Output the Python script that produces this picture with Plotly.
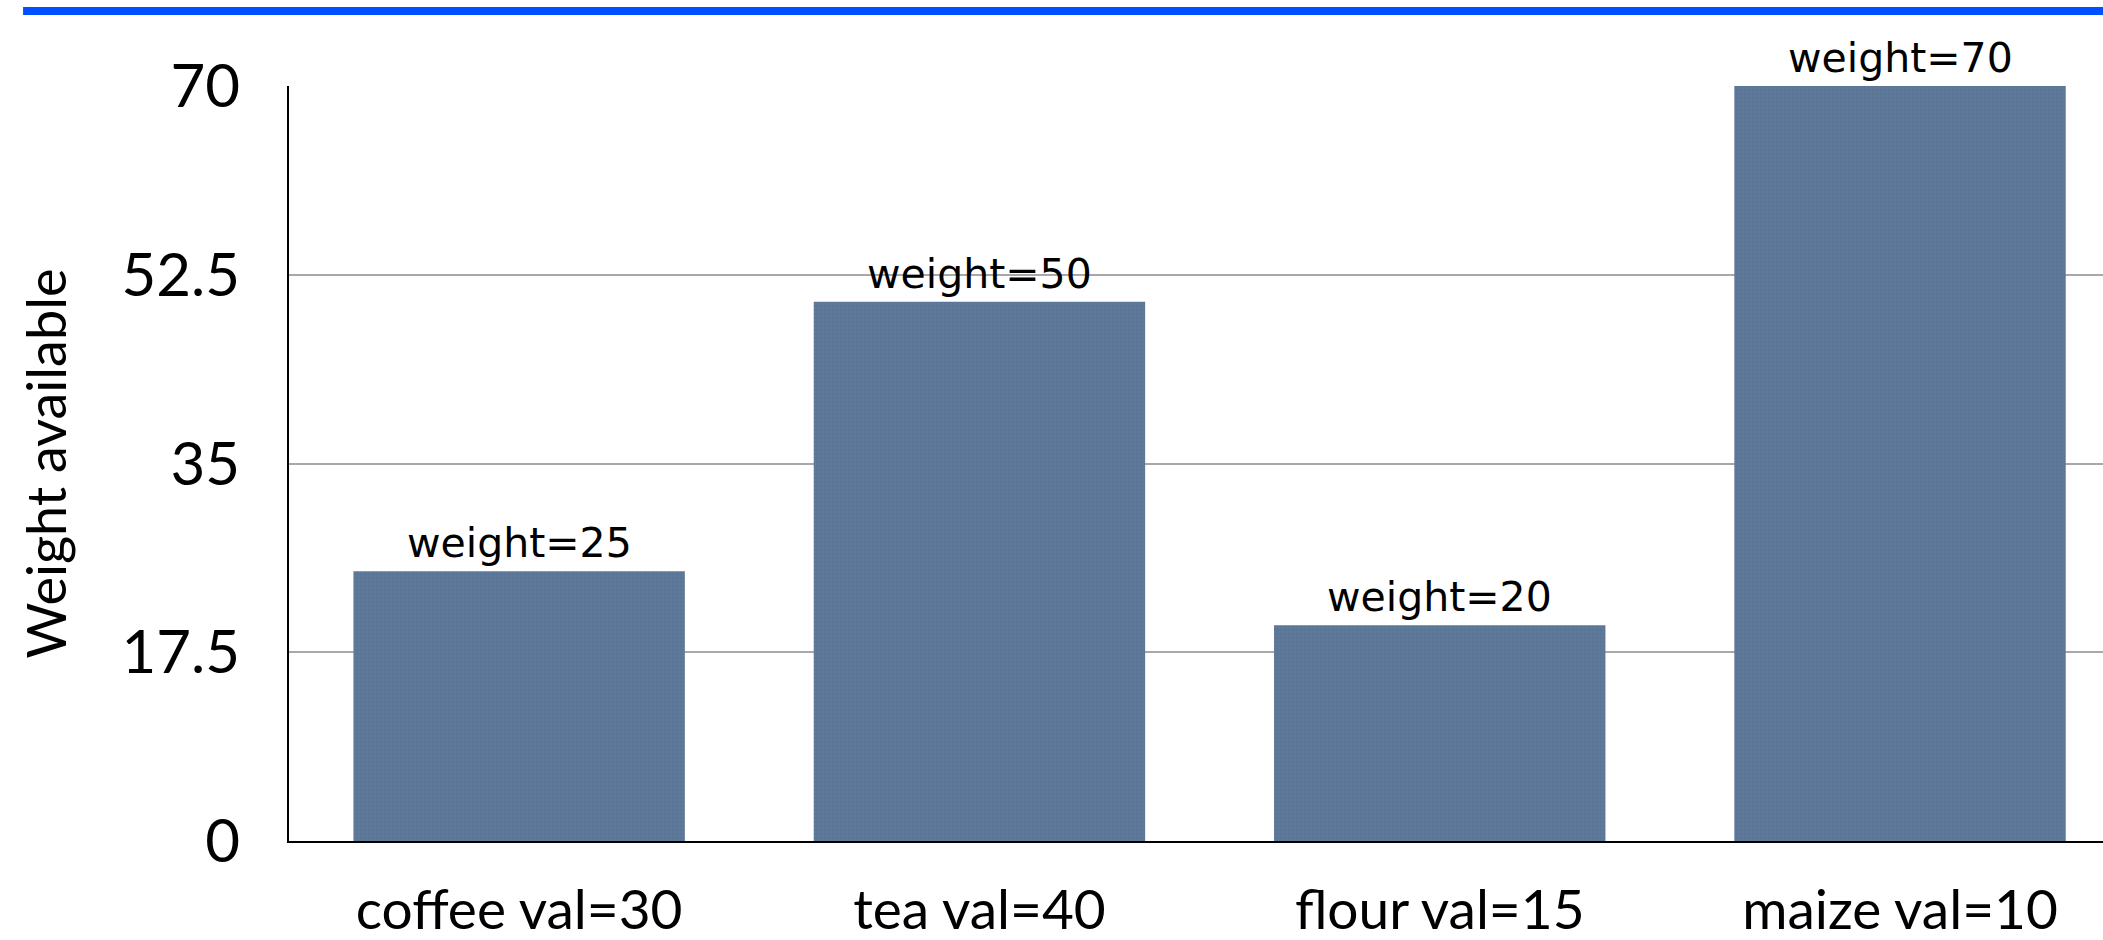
import plotly.graph_objects as go

# Commodities and their values
categories = ["coffee val=30", "tea val=40", "flour val=15", "maize val=10"]
weights = [25, 50, 20, 70]
y_ticks = [0, 17.5, 35, 52.5, 70]
y_tick_text = ["0", "17.5", "35", "52.5", "70"]

BAR_COLOR = "#5b7696"
TICK_FONT = "Lato, 'Open Sans', sans-serif"
LABEL_FONT = "'DejaVu Sans', Verdana, sans-serif"

fig = go.Figure()

fig.add_trace(go.Bar(
    x=categories,
    y=weights,
    marker=dict(
        color=BAR_COLOR,
        line=dict(width=0),
        pattern=dict(shape=".", size=4, solidity=0.15,
                     fgcolor="#6a86a6", fgopacity=0.6),
    ),
    hoverinfo="skip",
    cliponaxis=False,
))

# Value labels sitting just above each bar
for cat, w in zip(categories, weights):
    fig.add_annotation(
        x=cat, y=w, xref="x", yref="y",
        text=f"weight={w}",
        showarrow=False,
        yanchor="bottom",
        yshift=2,
        font=dict(family=LABEL_FONT, size=41, color="#000000"),
    )

# Blue rule across the top of the page
fig.add_shape(
    type="line", xref="paper", yref="paper",
    x0=-0.1466, x1=1.0, y0=1.0993, y1=1.0993,
    line=dict(color="#0050ff", width=8),
)

fig.update_layout(
    width=2103,
    height=940,
    margin=dict(l=289, r=0, t=86, b=99, autoexpand=False),
    paper_bgcolor="#ffffff",
    plot_bgcolor="#ffffff",
    showlegend=False,
    bargap=0.28,
    xaxis=dict(
        range=[-0.5, 3.441],
        showgrid=False,
        showline=True,
        linecolor="#000000",
        linewidth=2,
        ticks="outside",
        ticklen=20,
        tickcolor="rgba(0,0,0,0)",
        tickfont=dict(family=TICK_FONT, size=55, color="#000000"),
        automargin=False,
    ),
    yaxis=dict(
        range=[0, 70],
        tickmode="array",
        tickvals=y_ticks,
        ticktext=y_tick_text,
        showgrid=True,
        gridcolor="#a8a8a8",
        gridwidth=2,
        zeroline=False,
        showline=True,
        linecolor="#000000",
        linewidth=2,
        ticks="outside",
        ticklen=35,
        tickcolor="rgba(0,0,0,0)",
        tickfont=dict(family=TICK_FONT, size=60, color="#000000"),
        title=dict(text="Weight available", standoff=38,
                   font=dict(family=TICK_FONT, size=54, color="#000000")),
        automargin=False,
    ),
)

fig.write_html("out.html")
